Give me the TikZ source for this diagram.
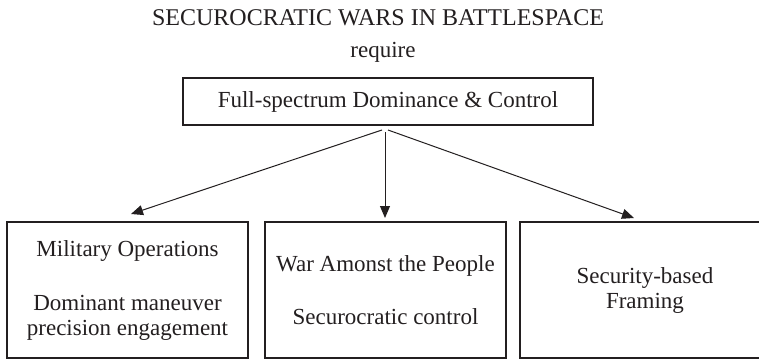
\documentclass[tikz,border=0pt]{standalone}
\usepackage{fontspec}
\setmainfont{Liberation Serif}
\usetikzlibrary{arrows.meta}
\definecolor{ink}{HTML}{231F20}
\begin{document}
\begin{tikzpicture}[x=1pt,y=-1pt,
  txt/.style={text=ink,font=\fontsize{23}{25}\selectfont,inner sep=0pt,align=center},
  boxnode/.style={txt,draw=ink,line width=1.1pt},
  arr/.style={draw=ink,line width=1pt,-{Triangle[length=12pt,width=10pt]}}]
\useasboundingbox (0,0) rectangle (759,361);
\fill[white] (0,0) rectangle (759,361);
\node[txt,font=\fontsize{24}{26}\selectfont] (title) at (378,18) {SECUROCRATIC WARS IN BATTLESPACE};
\node[txt] (req) at (383,52) {require};
\node[boxnode,minimum width=410pt,minimum height=47pt] (top) at (388,101.5) {Full-spectrum Dominance \& Control};
\node[boxnode,minimum width=241pt,minimum height=136pt] (mil) at (127.5,290) {Military Operations\\[29pt]Dominant maneuver\\precision engagement};
\node[boxnode,minimum width=241pt,minimum height=136pt] (war) at (385.5,290) {War Amonst the People\\[28pt]Securocratic control};
\node[boxnode,minimum width=250pt,minimum height=136pt] (sec) at (645,290) {Security-based\\Framing};
\coordinate (s1) at (382,130);
\coordinate (s2) at (385,132);
\coordinate (s3) at (388,130);
\coordinate (e1) at (131,214);
\coordinate (e2) at (385,218);
\coordinate (e3) at (634,218);
\draw[arr] (s1) -- (e1);
\draw[arr] (s2) -- (e2);
\draw[arr] (s3) -- (e3);
\end{tikzpicture}
\end{document}
